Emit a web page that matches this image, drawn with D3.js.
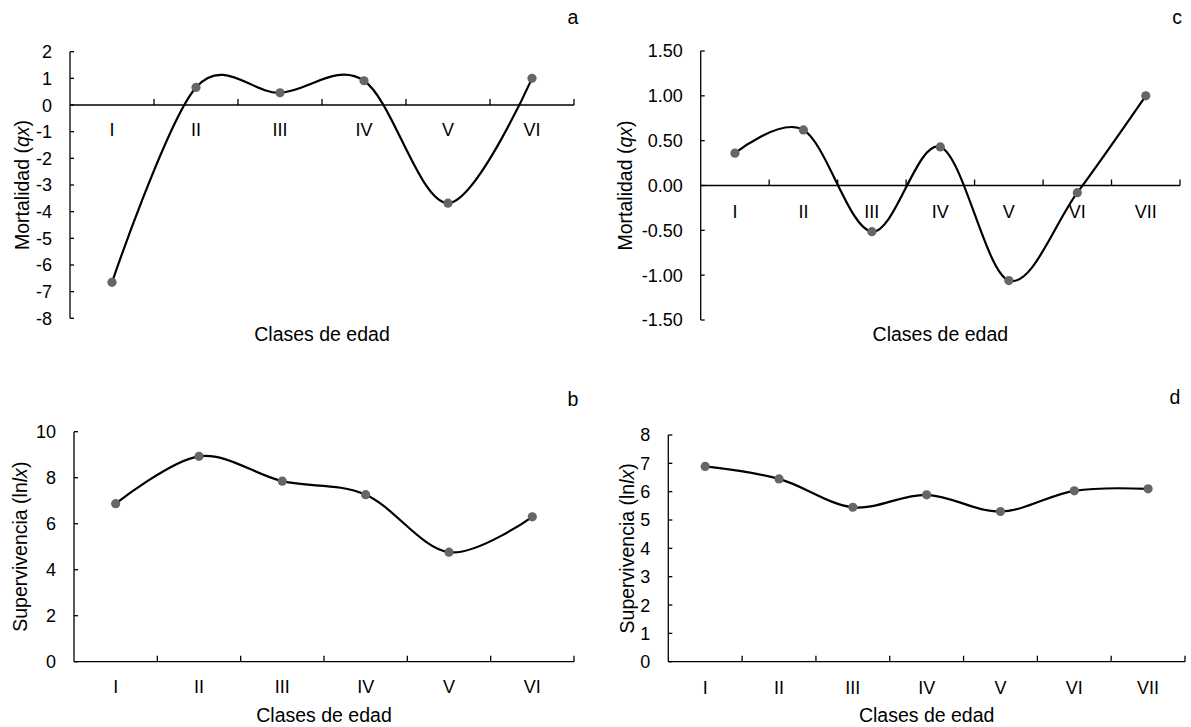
<!DOCTYPE html>
<html>
<head>
<meta charset="utf-8">
<script src="https://cdn.jsdelivr.net/npm/d3@7"></script>
<style>
  body { margin: 0; background: #fff; }
  svg text { font-family: "Liberation Sans", Arial, sans-serif; fill: #000; }
</style>
</head>
<body>
<svg id="chart" width="1191" height="727"></svg>
<script>
// ---- Data ----
const categoriesA = ["I", "II", "III", "IV", "V", "VI"];
const mortalityA = [-6.65, 0.66, 0.46, 0.91, -3.68, 1.0];
const yTicksA = [-8, -7, -6, -5, -4, -3, -2, -1, 0, 1, 2];

const categoriesC = ["I", "II", "III", "IV", "V", "VI", "VII"];
const mortalityC = [0.36, 0.62, -0.515, 0.43, -1.06, -0.08, 1.0];
const yTicksC = [-1.5, -1.0, -0.5, 0.0, 0.5, 1.0, 1.5];

const categoriesB = ["I", "II", "III", "IV", "V", "VI"];
const survivalB = [6.87, 8.93, 7.85, 7.26, 4.76, 6.3];
const yTicksB = [0, 2, 4, 6, 8, 10];

const categoriesD = ["I", "II", "III", "IV", "V", "VI", "VII"];
const survivalD = [6.89, 6.45, 5.45, 5.89, 5.3, 6.03, 6.1];
const yTicksD = [0, 1, 2, 3, 4, 5, 6, 7, 8];

const svg = d3.select("#chart");
const FS = 18;      // tick labels
const FT = 19.5;    // axis titles

function drawPanel(p) {
  const g = svg.append("g");
  const x = d3.scaleBand().domain(p.categories).range([p.x0, p.x1]);
  const y = d3.scaleLinear().domain([p.ticks[0], p.ticks[p.ticks.length - 1]]).range([p.yBottom, p.yTop]);
  const y0 = y(0);

  // y axis line
  g.append("line").attr("x1", p.x0).attr("x2", p.x0).attr("y1", y(p.ticks[0])).attr("y2", y(p.ticks[p.ticks.length - 1]))
    .attr("stroke", "#000").attr("stroke-width", 1.3);
  // y ticks (inside)
  g.selectAll(".yt").data(p.ticks).enter().append("line")
    .attr("x1", p.x0).attr("x2", p.x0 + 4)
    .attr("y1", d => y(d)).attr("y2", d => y(d))
    .attr("stroke", "#000").attr("stroke-width", 1.3);
  g.selectAll(".yl").data(p.ticks).enter().append("text")
    .attr("x", p.x0 - 18).attr("y", d => y(d)).attr("dy", "0.36em")
    .attr("text-anchor", "end").attr("font-size", FS)
    .text(p.fmt);

  // x axis line at 0
  g.append("line").attr("x1", p.x0).attr("x2", p.x1).attr("y1", y0).attr("y2", y0)
    .attr("stroke", "#000").attr("stroke-width", 1.3);
  const bounds = p.categories.map(c => x(c) + x.bandwidth());
  g.selectAll(".xt").data(bounds).enter().append("line")
    .attr("x1", d => d).attr("x2", d => d).attr("y1", y0).attr("y2", y0 - 6)
    .attr("stroke", "#000").attr("stroke-width", 1.3);
  g.selectAll(".xl").data(p.categories).enter().append("text")
    .attr("x", d => x(d) + x.bandwidth() / 2).attr("y", y0 + p.labelOffset)
    .attr("text-anchor", "middle").attr("font-size", FS)
    .text(d => d);

  // line
  const pts = p.values.map((v, i) => [x(p.categories[i]) + x.bandwidth() / 2, y(v)]);
  g.append("path").attr("d", d3.line().curve(d3.curveCardinal.tension(0))(pts))
    .attr("fill", "none").attr("stroke", "#000").attr("stroke-width", 2.2);
  g.selectAll(".pt").data(pts).enter().append("circle")
    .attr("cx", d => d[0]).attr("cy", d => d[1]).attr("r", 4.6)
    .attr("fill", "#666");

  // titles
  g.append("text").attr("x", (p.x0 + p.x1) / 2).attr("y", p.xTitleY)
    .attr("text-anchor", "middle").attr("font-size", FT).text("Clases de edad");
  const yt = g.append("text")
    .attr("transform", `translate(${p.yTitleX},${(y(p.ticks[0]) + y(p.ticks[p.ticks.length - 1])) / 2}) rotate(-90)`)
    .attr("text-anchor", "middle").attr("dy", "0.36em").attr("font-size", FT);
  yt.append("tspan").text(p.yTitle[0]);
  yt.append("tspan").attr("font-style", "italic").text(p.yTitle[1]);
  yt.append("tspan").text(p.yTitle[2]);

  g.append("text").attr("x", p.letterX).attr("y", p.letterY).attr("text-anchor", "middle")
    .attr("font-size", FT).text(p.letter);
}

drawPanel({
  categories: categoriesA, values: mortalityA, ticks: yTicksA, fmt: d => String(d),
  x0: 70, x1: 574, yTop: 51.7, yBottom: 318.3, labelOffset: 31,
  xTitleY: 341, yTitleX: 22, yTitle: ["Mortalidad (", "qx", ")"],
  letter: "a", letterX: 573, letterY: 24
});
drawPanel({
  categories: categoriesC, values: mortalityC, ticks: yTicksC, fmt: d => d.toFixed(2),
  x0: 700.7, x1: 1180, yTop: 51, yBottom: 320, labelOffset: 32,
  xTitleY: 341, yTitleX: 625, yTitle: ["Mortalidad (", "qx", ")"],
  letter: "c", letterX: 1177, letterY: 24
});
drawPanel({
  categories: categoriesB, values: survivalB, ticks: yTicksB, fmt: d => String(d),
  x0: 74, x1: 574, yTop: 431.7, yBottom: 661.7, labelOffset: 31,
  xTitleY: 722, yTitleX: 20, yTitle: ["Supervivencia (ln", "lx", ")"],
  letter: "b", letterX: 573, letterY: 406
});
drawPanel({
  categories: categoriesD, values: survivalD, ticks: yTicksD, fmt: d => String(d),
  x0: 668.3, x1: 1185, yTop: 435, yBottom: 661.7, labelOffset: 32,
  xTitleY: 722, yTitleX: 627, yTitle: ["Supervivencia (ln", "lx", ")"],
  letter: "d", letterX: 1175, letterY: 404
});
</script>
</body>
</html>
